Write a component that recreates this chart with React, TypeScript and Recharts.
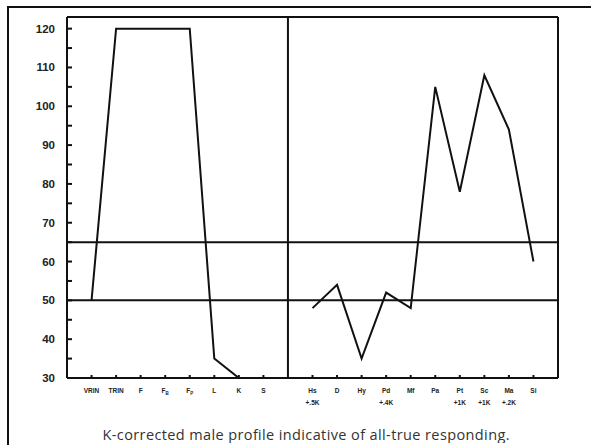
import { LineChart, Line, XAxis, YAxis, ReferenceLine } from 'recharts';

// MMPI-2 profile: validity scales on the left, clinical scales on the right
const validityScales = ['VRIN', 'TRIN', 'F', 'F_B', 'F_P', 'L', 'K', 'S'];
const validityScores: (number | null)[] = [50, 120, 120, 120, 120, 35, 30, null];

const clinicalScales = ['Hs', 'D', 'Hy', 'Pd', 'Mf', 'Pa', 'Pt', 'Sc', 'Ma', 'Si'];
const clinicalCorrections = ['+.5K', '', '', '+.4K', '', '', '+1K', '+1K', '+.2K', ''];
const clinicalScores = [48, 54, 35, 52, 48, 105, 78, 108, 94, 60];

const yTicks = [30, 35, 40, 45, 50, 55, 60, 65, 70, 75, 80, 85, 90, 95, 100, 105, 110, 115, 120];
const cutoffLines = [50, 65];

const X_MIN = 0;
const X_MAX = 20;
const Y_MIN = 30;
const Y_MAX = 123;
const CLINICAL_START = 10;
const DIVIDER = 9;

const chartData = [
  ...validityScales.map((name, i) => ({
    pos: i + 1,
    name,
    sub: '',
    validity: validityScores[i],
    clinical: null as number | null,
  })),
  ...clinicalScales.map((name, i) => ({
    pos: CLINICAL_START + i,
    name,
    sub: clinicalCorrections[i],
    validity: null as number | null,
    clinical: clinicalScores[i],
  })),
];

const labelByPos: Record<number, { name: string; sub: string }> = {};
chartData.forEach((d) => {
  labelByPos[d.pos] = { name: d.name, sub: d.sub };
});

const INK = '#111';

function XTick(props: any) {
  const { x, y, payload } = props;
  const label = labelByPos[payload.value];
  if (!label) return null;
  const [main, subscript] = label.name.split('_');
  return (
    <g>
      <line x1={x} y1={y} x2={x} y2={y - 3} stroke={INK} strokeWidth={2} />
      <text
        x={x}
        y={y + 15}
        textAnchor="middle"
        fontFamily="'Liberation Sans', Arial, sans-serif"
        fontWeight="bold"
        fontSize={6.5}
        fill="#222"
      >
        {main}
        {subscript && (
          <tspan dy={2} fontSize={4.5}>
            {subscript}
          </tspan>
        )}
      </text>
      {label.sub && (
        <text
          x={x}
          y={y + 27}
          textAnchor="middle"
          fontFamily="'Liberation Sans', Arial, sans-serif"
          fontWeight="bold"
          fontSize={6.5}
          fill="#222"
        >
          {label.sub}
        </text>
      )}
    </g>
  );
}

function YTick(props: any) {
  const { x, y, payload } = props;
  const v = payload.value as number;
  return (
    <g>
      <line x1={x} y1={y} x2={x + 5} y2={y} stroke={INK} strokeWidth={2} />
      {v % 10 === 0 && (
        <text
          x={x - 12}
          y={y + 4}
          textAnchor="end"
          fontFamily="'Liberation Sans', Arial, sans-serif"
          fontWeight="bold"
          fontSize={11.5}
          fill="#222"
        >
          {v}
        </text>
      )}
    </g>
  );
}

export default function App() {
  return (
    <div
      style={{
        position: 'absolute',
        left: 7,
        top: 6,
        width: 584,
        height: 439,
        borderLeft: `2px solid ${INK}`,
        borderTop: `2px solid ${INK}`,
        boxSizing: 'border-box',
        background: '#fff',
        overflow: 'hidden',
      }}
    >
      <LineChart
        width={575}
        height={405}
        data={chartData}
        margin={{ top: 9, right: 26, left: 0, bottom: 0 }}
      >
        <XAxis
          dataKey="pos"
          type="number"
          domain={[X_MIN, X_MAX]}
          ticks={chartData.map((d) => d.pos)}
          interval={0}
          axisLine={false}
          tickLine={false}
          tickSize={0}
          tickMargin={0}
          height={35}
          tick={<XTick />}
        />
        <YAxis
          type="number"
          domain={[Y_MIN, Y_MAX]}
          ticks={yTicks}
          interval={0}
          allowDataOverflow
          axisLine={false}
          tickLine={false}
          tickSize={0}
          tickMargin={0}
          width={58}
          tick={<YTick />}
        />
        {/* plot frame */}
        <ReferenceLine x={X_MIN} stroke={INK} strokeWidth={2} ifOverflow="visible" />
        <ReferenceLine x={X_MAX} stroke={INK} strokeWidth={2} ifOverflow="visible" />
        <ReferenceLine y={Y_MIN} stroke={INK} strokeWidth={2} ifOverflow="visible" />
        <ReferenceLine y={Y_MAX} stroke={INK} strokeWidth={2} ifOverflow="visible" />
        {cutoffLines.map((v) => (
          <ReferenceLine key={v} y={v} stroke={INK} strokeWidth={2} />
        ))}
        <ReferenceLine x={DIVIDER} stroke={INK} strokeWidth={2} />
        <Line
          dataKey="validity"
          type="linear"
          stroke={INK}
          strokeWidth={2}
          dot={false}
          activeDot={false}
          connectNulls={false}
          isAnimationActive={false}
        />
        <Line
          dataKey="clinical"
          type="linear"
          stroke={INK}
          strokeWidth={2}
          dot={false}
          activeDot={false}
          connectNulls={false}
          isAnimationActive={false}
        />
      </LineChart>
      <svg width={575} height={30} style={{ display: 'block' }}>
        <text
          x={297}
          y={27}
          textAnchor="middle"
          fontFamily="'Open Sans', Lato, sans-serif"
          fontSize={14.5}
          fill="#333"
          textLength={407}
          lengthAdjust="spacing"
        >
          K-corrected male profile indicative of all-true responding.
        </text>
      </svg>
    </div>
  );
}
